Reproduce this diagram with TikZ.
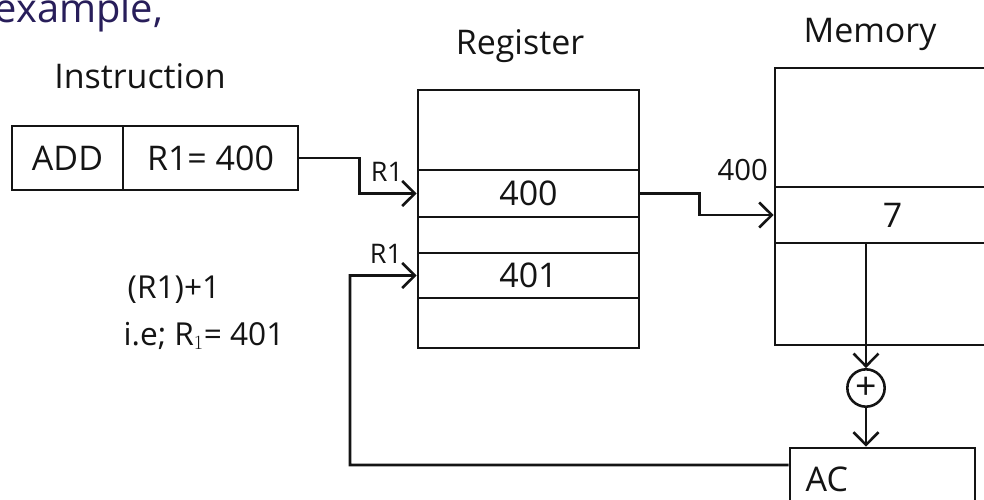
\documentclass[tikz,border=0pt]{standalone}
\usepackage{fontspec}
\setmainfont{Open Sans}
\usetikzlibrary{arrows.meta}
\definecolor{ink}{RGB}{20,20,20}
\definecolor{blueink}{RGB}{40,30,90}
\begin{document}
\begin{tikzpicture}[x=0.03cm,y=-0.03cm,
  line width=2.2pt, draw=ink, text=ink,
  box/.style={draw, rectangle, inner sep=0pt},
  arr/.style={-{Straight Barb[length=0.38cm,width=0.75cm,line width=2.2pt]}},
  big/.style={font=\fontsize{29}{32}\selectfont},
  mid/.style={font=\fontsize{27}{30}\selectfont},
  small/.style={font=\fontsize{23}{26}\selectfont},
  head/.style={font=\fontsize{29}{32}\selectfont}]
\useasboundingbox (0,0) rectangle (984,499);
\clip (0,0) rectangle (984,499);
\fill[white] (0,0) rectangle (984,499);

% top partial text
\node[anchor=base east, text=blueink, font=\fontsize{34}{36}\selectfont] (ex) at (168,22) {example,};

% headers
\node[head] (hinstr) at (140,76) {Instruction};
\node[head] (hreg) at (520,46) {Register};
\node[head] (hmem) at (870,34) {Memory};

% instruction box
\node[box, big, minimum width=3.33cm, minimum height=1.92cm] (add) at (67.5,158) {ADD};
\node[box, big, minimum width=5.25cm, minimum height=1.92cm] (r1) at (210.5,158) {R1= 400};

% register
\node[box, minimum width=6.63cm, minimum height=7.74cm] (reg) at (528.5,219) {};
\node[box, big, minimum width=6.63cm, minimum height=1.41cm] (reg400) at (528.5,193.5) {400};
\node[box, big, minimum width=6.63cm, minimum height=1.35cm] (reg401) at (528.5,275.5) {401};

% memory
\node[box, minimum width=7.05cm, minimum height=8.31cm] (mem) at (892.5,206.5) {};
\node[box, big, minimum width=7.05cm, minimum height=1.68cm] (mem7) at (892.5,215) {7};

% adder and accumulator
\node[draw, circle, inner sep=0pt, minimum size=1.12cm, font=\fontsize{32}{32}\selectfont] (plus) at (866,388) {+};
\node[box, big, minimum width=5.55cm, minimum height=1.86cm, text width=4.61cm, align=left, inner xsep=0.47cm] (ac) at (882.5,479) {AC};

% labels
\node[small] (lr1a) at (387,172) {R1};
\node[small] (lr1b) at (386,254) {R1};
\node[mid, anchor=south east, font=\fontsize{25}{28}\selectfont] (l400) at ([xshift=-0.02cm]mem7.north west) {400};
\node[mid] (inc) at (174,290) {(R1)+1};
\node[mid] (ie) at (204,336) {i.e; R$_1$= 401};

% connectors
\coordinate (loop) at (350,465);
\draw[arr] (r1.east) -- ++(60,0) |- (reg400.west);
\draw[arr] (reg400.east) -- ++(59,0) |- (mem7.west);
\draw[arr] (mem7.south -| plus.north) -- (plus.north);
\draw[arr] (plus.south) -- (plus.south |- ac.north);
\draw[arr] ([yshift=0.42cm]ac.west) -- (loop) |- (reg401.west);
\end{tikzpicture}
\end{document}
